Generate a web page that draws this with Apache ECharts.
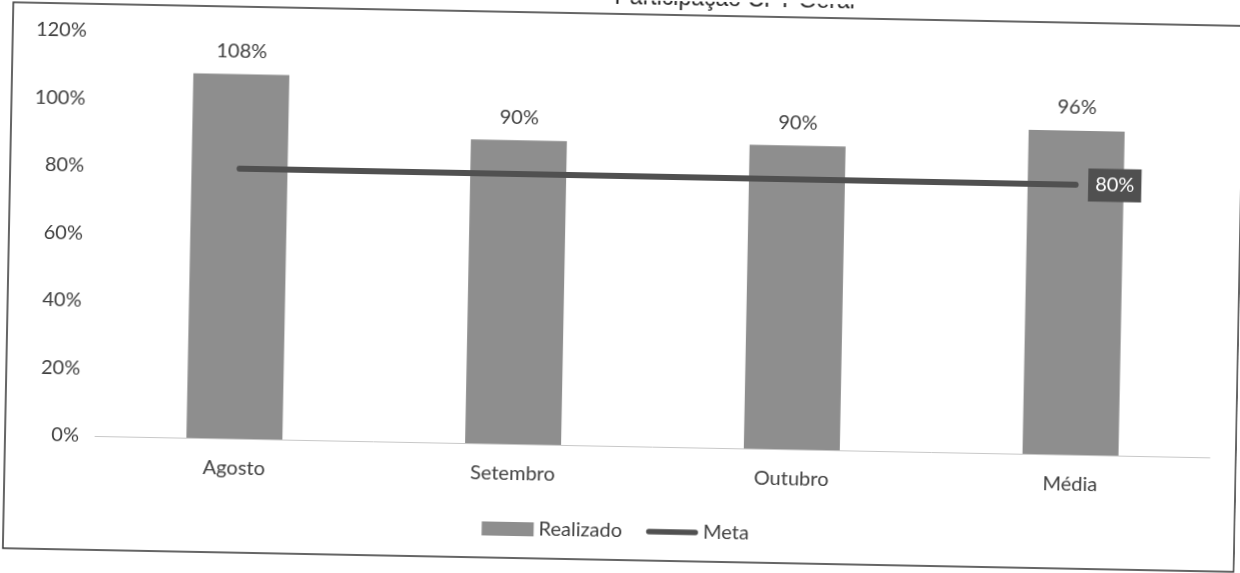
<!DOCTYPE html>
<html>
<head>
<meta charset="utf-8">
<script src="https://cdn.jsdelivr.net/npm/echarts@6/dist/echarts.min.js"></script>
<style>
  html, body { margin: 0; padding: 0; background: #fff; overflow: hidden; }
  /* a digitalização está levemente girada */
  #chart { width: 1240px; height: 573px; transform: rotate(1.1deg); }
</style>
</head>
<body>
<div id="chart"></div>
<script>
// dados
const categories = ['Agosto', 'Setembro', 'Outubro', 'Média']
const realizado = [108, 90, 90, 96]
const meta = [80, 80, 80, 80]
const yTicks = [0, 20, 40, 60, 80, 100, 120]

const chart = echarts.init(document.getElementById('chart'))
const font = 'Lato, "Open Sans", sans-serif'
const textColor = '#404040'

const option = {
  backgroundColor: '#fff',
  animation: false,
  title: {
    text: 'Participação CFT Geral',
    left: 604,
    top: -19,
    textStyle: { fontFamily: '"Liberation Sans", Arial, sans-serif', fontSize: 23, fontWeight: 'normal', color: '#222' }
  },
  graphic: [
    {
      type: 'rect',
      shape: { x: 8, y: 14, width: 1231, height: 546 },
      style: { fill: 'none', stroke: '#333', lineWidth: 1.5 },
      silent: true
    }
  ],
  legend: {
    top: 516,
    left: 'center',
    itemGap: 24,
    itemWidth: 52,
    itemHeight: 14,
    textStyle: { fontFamily: font, fontSize: 20, color: textColor },
    data: [
      { name: 'Realizado', icon: 'rect', itemStyle: { color: '#8e8e8e' } },
      { name: 'Meta', icon: 'path://M3,0 L53,0 A3,3 0 0 1 53,6 L3,6 A3,3 0 0 1 3,0 Z', itemStyle: { color: '#505050' } }
    ]
  },
  grid: { left: 98, right: 27, top: 41, bottom: 127 },
  xAxis: {
    type: 'category',
    data: categories,
    axisTick: { show: false },
    axisLine: { lineStyle: { color: '#c8c8c8', width: 1 } },
    axisLabel: { fontFamily: font, fontSize: 20, color: textColor, margin: 20 }
  },
  yAxis: {
    type: 'value',
    min: yTicks[0],
    max: yTicks[yTicks.length - 1],
    interval: 20,
    splitLine: { show: false },
    axisLine: { show: false },
    axisTick: { show: false },
    axisLabel: { fontFamily: font, fontSize: 20, color: textColor, margin: 16, formatter: '{value}%' }
  },
  series: [
    {
      name: 'Realizado',
      type: 'bar',
      data: realizado,
      barWidth: 96,
      itemStyle: { color: '#8e8e8e' },
      label: {
        show: true,
        position: 'top',
        distance: 13,
        formatter: '{c}%',
        fontFamily: font,
        fontSize: 20,
        color: textColor
      }
    },
    {
      name: 'Meta',
      type: 'line',
      data: meta,
      symbol: 'none',
      lineStyle: { color: '#505050', width: 6, cap: 'round' },
      itemStyle: { color: '#505050' },
      markPoint: {
        symbol: 'rect',
        symbolSize: 1,
        itemStyle: { color: '#505050' },
        label: {
          show: true,
          position: 'right',
          distance: 12,
          formatter: '{c}%',
          fontFamily: font,
          fontSize: 20,
          color: '#fff',
          backgroundColor: '#505050',
          padding: [7, 7, 6, 7]
        },
        data: [{ coord: [categories.length - 1, meta[meta.length - 1]], value: meta[meta.length - 1] }]
      }
    }
  ]
}
chart.setOption(option)
</script>
</body>
</html>
